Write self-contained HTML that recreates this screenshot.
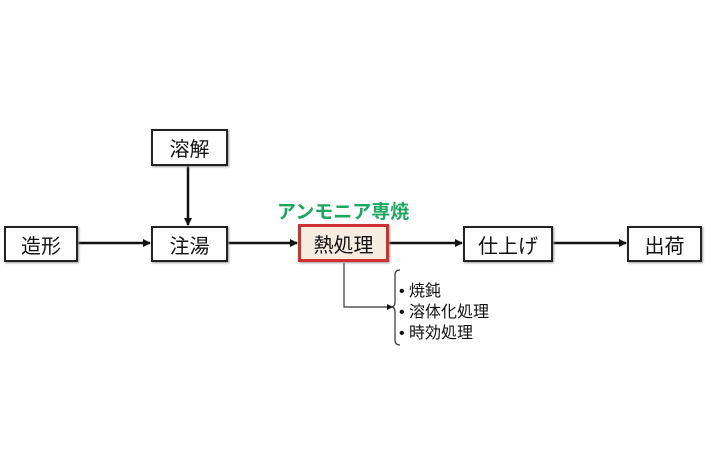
<!DOCTYPE html>
<html><head><meta charset="utf-8"><style>
body{margin:0;width:710px;height:474px;background:#fff;position:relative;overflow:hidden;font-family:"Liberation Sans","Noto Sans CJK JP",sans-serif;}
.b{position:absolute;box-sizing:border-box;border:2px solid #222;background:#fff;display:flex;align-items:center;justify-content:center;font-size:20px;color:#111;box-shadow:1px 1px 2px #999;}
.t{position:absolute;font-size:16px;color:#111;white-space:nowrap;}
</style></head><body>
<svg width="710" height="474" style="position:absolute;left:0;top:0">
<defs><marker id="a" markerWidth="8" markerHeight="8" refX="7" refY="4" orient="auto" markerUnits="userSpaceOnUse"><path d="M0,0 L8,4 L0,8z" fill="#111"/></marker>
<marker id="s" markerWidth="6" markerHeight="6" refX="5" refY="3" orient="auto" markerUnits="userSpaceOnUse"><path d="M0,0 L6,3 L0,6z" fill="#111"/></marker></defs>
<g stroke="#111" stroke-width="2.5" fill="none">
<line x1="78" y1="243" x2="150" y2="243" marker-end="url(#a)"/>
<line x1="228" y1="243" x2="297" y2="243" marker-end="url(#a)"/>
<line x1="389" y1="243" x2="462" y2="243" marker-end="url(#a)"/>
<line x1="553" y1="243" x2="626" y2="243" marker-end="url(#a)"/>
<line x1="188" y1="166" x2="188" y2="225" marker-end="url(#a)"/>
</g>
<polyline points="344,263 344,307 392,307" stroke="#333" stroke-width="1.2" fill="none" marker-end="url(#s)"/>
<path d="M400,270 Q395,270 395,275 L395,302 Q395,307 391,307 Q395,307 395,312 L395,340 Q395,345 400,345" stroke="#333" stroke-width="1.2" fill="none"/>
</svg>
<div class="b" style="left:151px;top:129px;width:77px;height:37px">溶解</div>
<div class="b" style="left:4px;top:226px;width:74px;height:36px">造形</div>
<div class="b" style="left:151px;top:226px;width:77px;height:36px">注湯</div>
<div class="b" style="left:298px;top:224px;width:91px;height:38px;border:3px solid #d03030;background:#f6ece0">熱処理</div>
<div class="b" style="left:463px;top:226px;width:90px;height:36px">仕上げ</div>
<div class="b" style="left:627px;top:226px;width:75px;height:36px">出荷</div>
<div class="t" style="left:277px;top:197px;font-size:19px;font-weight:bold;color:#1aa860">アンモニア専焼</div>
<div class="t" style="left:399px;top:277px">• 焼鈍</div>
<div class="t" style="left:399px;top:298px">• 溶体化処理</div>
<div class="t" style="left:399px;top:319px">• 時効処理</div>
</body></html>
